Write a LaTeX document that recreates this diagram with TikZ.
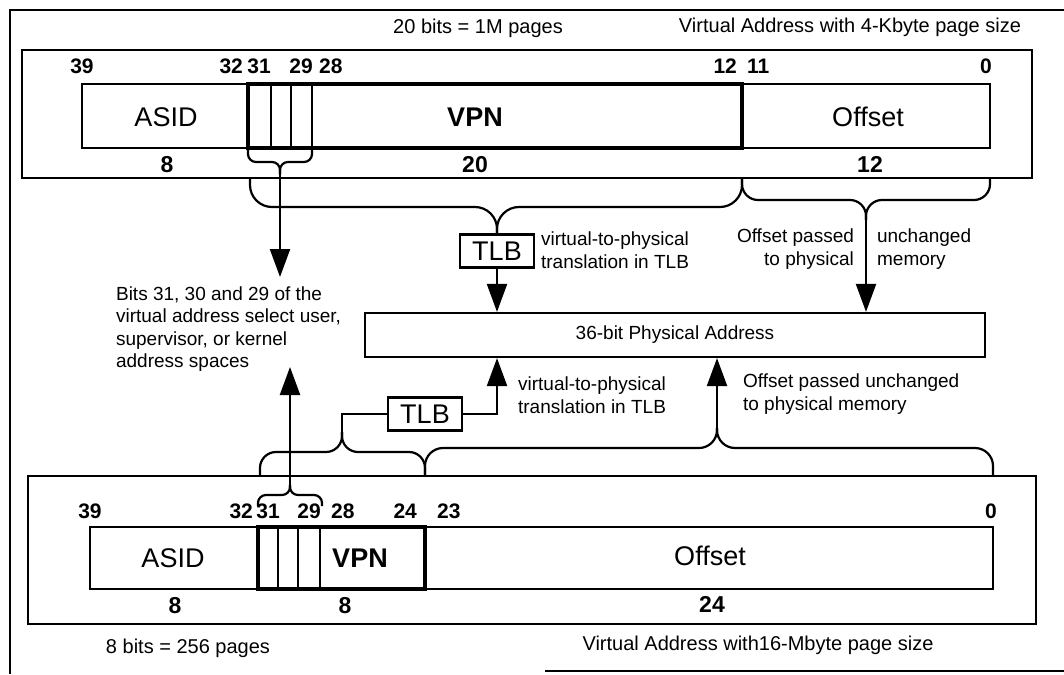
\documentclass[tikz,border=0pt]{standalone}
\usepackage{fontspec}
\setmainfont{Liberation Sans}
\usetikzlibrary{arrows.meta, positioning, calc}

\begin{document}
\begin{tikzpicture}[x=0.5pt, y=-0.5pt, line width=1.1pt,
    capt/.style={font=\fontsize{10}{12}\selectfont, inner sep=0pt},
    note/.style={font=\fontsize{9.5}{11.25}\selectfont, inner sep=0pt},
    lbl/.style={font=\fontsize{13.5}{16}\selectfont, inner sep=0pt},
    lblb/.style={font=\bfseries\fontsize{13.5}{16}\selectfont, inner sep=0pt},
    num/.style={font=\bfseries\fontsize{10.5}{12}\selectfont, inner sep=0pt},
    sz/.style={font=\bfseries\fontsize{11.5}{13}\selectfont, inner sep=0pt},
    tlb/.style={draw, font=\fontsize{13.5}{16}\selectfont, minimum width=37pt, minimum height=16.5pt, inner sep=0pt},
    arr/.style={-{Triangle[length=14pt,width=10pt]}},
    brc/.style={rounded corners=#1}, brc/.default=10pt,
    thickbox/.style={line width=2.4pt}]
    \useasboundingbox (0,0) rectangle (1064,674);

    % outer frame
    \draw (1064,10) -- (10,10) -- (10,674);
    \draw (545,671) -- (1064,671);

    % virtual address, 4-Kbyte pages
    \node[capt] (capA1) at (478,28) {20 bits = 1M pages};
    \node[capt] (capA2) at (850,27) {Virtual Address with 4-Kbyte page size};
    \draw (22,50) rectangle (1032,178);
    \draw (82,84) rectangle (248,148);
    \draw (742,84) rectangle (990,148);
    \foreach \x in {271,291,312} \draw (\x,84) -- (\x,148);
    \draw[thickbox] (248,84) rectangle (742,148);

    \node[lbl] (asidA) at (166,117) {ASID};
    \node[lblb] (vpnA) at (475,117) {VPN};
    \node[lbl] (offA) at (868,117) {Offset};

    \node[num] (nA39) at (82,66) {39};
    \node[num, anchor=east] (nA32) at (244,66) {32};
    \node[num] (nA31) at (259,66) {31};
    \node[num] (nA29) at (301,66) {29};
    \node[num, anchor=west] (nA28) at (318,66) {28};
    \node[num, anchor=east] (nA12) at (738,66) {12};
    \node[num, anchor=west] (nA11) at (746,66) {11};
    \node[num, anchor=east] (nA0) at (993,66) {0};

    \node[sz] (sA8) at (167,165) {8};
    \node[sz] (sA20) at (475,165) {20};
    \node[sz] (sA12) at (870,164) {12};

    % braces below the 4-Kbyte address
    \coordinate (tipBA) at (280,174);
    \draw[brc=4pt] (248,149) |- (280,162) -- (tipBA);
    \draw[brc=4pt] (312,149) |- (280,162) -- (tipBA);

    \node[tlb] (tlbA) at (497,251) {TLB};
    \draw[brc=11pt] (250,178) |- (497,207) -- (tlbA.north);
    \draw[brc=11pt] (742,178) |- (497,207) -- (tlbA.north);

    \coordinate (tipOA) at (866,220);
    \draw[brc=8pt] (742,178) |- (866,200) -- (tipOA);
    \draw[brc=8pt] (990,178) |- (866,200) -- (tipOA);

    % physical address and notes
    \node[draw, note, minimum width=310pt, minimum height=22pt] (phys) at (675,335) {36-bit Physical Address};

    \node[note, anchor=west, align=left] (bitsNote) at (115,329) {Bits 31, 30 and 29 of the\\virtual address select user,\\supervisor, or kernel\\address spaces};
    \node[note, anchor=west, align=left] (v2pA) at (540,250) {virtual-to-physical\\translation in TLB};
    \node[note, anchor=east, align=right] (offNoteA1) at (855,249) {Offset passed\\to physical};
    \node[note, anchor=west, align=left] (offNoteA2) at (876,249) {unchanged\\memory};

    \coordinate (noteTop) at (280,277);
    \draw[arr] (tipBA) -- (noteTop);
    \draw[arr] (tlbA) -- (tlbA |- phys.north);
    \draw[arr] (tipOA) -- (tipOA |- phys.north);

    \node[tlb] (tlbB) at (425,414) {TLB};
    \node[note, anchor=west, align=left] (v2pB) at (517,395) {virtual-to-physical\\translation in TLB};
    \node[note, anchor=west, align=left] (offNoteB) at (742,394) {Offset passed unchanged\\to physical memory};

    % virtual address, 16-Mbyte pages
    \draw (28,476) rectangle (1036,624);
    \draw (90,527) rectangle (258,589);
    \draw (425,527) rectangle (993,589);
    \foreach \x in {278,298,320} \draw (\x,527) -- (\x,589);
    \draw[thickbox] (258,527) rectangle (425,589);

    \node[lbl] (asidB) at (173,558) {ASID};
    \node[lblb] (vpnB) at (360,558) {VPN};
    \node[lbl] (offB) at (710,556) {Offset};

    \node[num] (nB39) at (90,511) {39};
    \node[num, anchor=east] (nB32) at (254,511) {32};
    \node[num] (nB31) at (268,511) {31};
    \node[num] (nB29) at (309,511) {29};
    \node[num, anchor=west] (nB28) at (330,511) {28};
    \node[num, anchor=east] (nB24) at (418,511) {24};
    \node[num, anchor=west] (nB23) at (436,511) {23};
    \node[num, anchor=east] (nB0) at (998,511) {0};

    \node[sz] (sB8a) at (175,606) {8};
    \node[sz] (sB8b) at (345,606) {8};
    \node[sz] (sB24) at (712,604) {24};

    \node[capt] (capB1) at (188,648) {8 bits = 256 pages};
    \node[capt] (capB2) at (758,645) {Virtual Address with16-Mbyte page size};

    % braces above the 16-Mbyte address
    \coordinate (tipVB) at (342,432);
    \draw[brc=8pt] (260,476) |- (342,452) -- (tipVB);
    \draw[brc=8pt] (425,476) |- (342,452) -- (tipVB);
    \coordinate (tipOB) at (717,428);
    \draw[brc=9pt] (425,476) |- (717,448) -- (tipOB);
    \draw[brc=9pt] (993,476) |- (717,448) -- (tipOB);
    \coordinate (tipBB) at (290,485);
    \draw[brc=4pt] (258,506) |- (290,495) -- (tipBB);
    \draw[brc=4pt] (322,506) |- (290,495) -- (tipBB);

    \coordinate (noteBot) at (290,367);
    \draw[arr] (tipBB) -- (noteBot);
    \draw (tipVB) |- (tlbB.west);
    \draw[arr] (tlbB.east) -| (tlbA |- phys.south);
    \draw[arr] (tipOB) -- (tipOB |- phys.south);
\end{tikzpicture}
\end{document}
